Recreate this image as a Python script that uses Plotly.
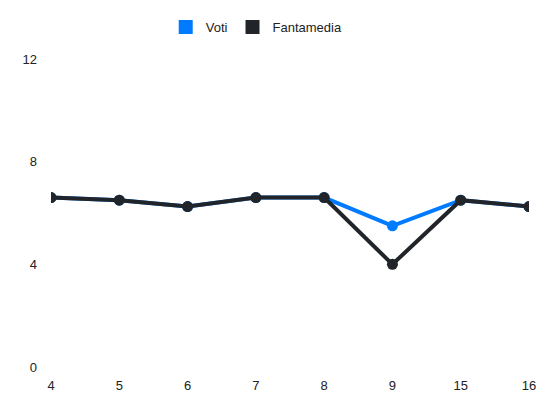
import plotly.graph_objects as go

# data
giornate = ["4", "5", "6", "7", "8", "9", "15", "16"]
voti = [6.6, 6.5, 6.25, 6.6, 6.6, 5.5, 6.5, 6.25]
fantamedia = [6.6, 6.5, 6.25, 6.6, 6.6, 4.0, 6.5, 6.25]
y_ticks = [0, 4, 8, 12]

BLUE = "#007bff"
DARK = "#212529"

fig = go.Figure()

# the actual lines
fig.add_trace(go.Scatter(x=giornate, y=voti, mode="lines+markers", name="Voti",
                         line=dict(color=BLUE, width=4), marker=dict(size=11, color=BLUE),
                         showlegend=False))
fig.add_trace(go.Scatter(x=giornate, y=fantamedia, mode="lines+markers", name="Fantamedia",
                         line=dict(color=DARK, width=4), marker=dict(size=11, color=DARK),
                         showlegend=False))

# legend-only entries with square swatches
for name, color in [("Voti", BLUE), ("Fantamedia", DARK)]:
    fig.add_trace(go.Scatter(x=[None], y=[None], mode="markers", name=name,
                             marker=dict(symbol="square", size=14, color=color)))

# page body adds 8px, so the figure is a bit smaller than the window
fig.update_layout(
    width=542, height=404,
    margin=dict(l=43, r=21, t=51, b=45, autoexpand=False),
    paper_bgcolor="white", plot_bgcolor="white",
    font=dict(family="Liberation Sans, Arial", size=13, color="#222"),
    legend=dict(orientation="h", x=0.24, xanchor="left", y=1.104, yanchor="middle",
                font=dict(size=13)),
)
fig.update_xaxes(type="category", range=[0, len(giornate) - 1], showgrid=False,
                 zeroline=False, showline=False, ticks="", ticklabelstandoff=9)
fig.update_yaxes(range=[0, 12], tickvals=y_ticks, showgrid=False, zeroline=False,
                 showline=False, ticks="", ticklabelstandoff=13)

fig.write_html("out.html")
